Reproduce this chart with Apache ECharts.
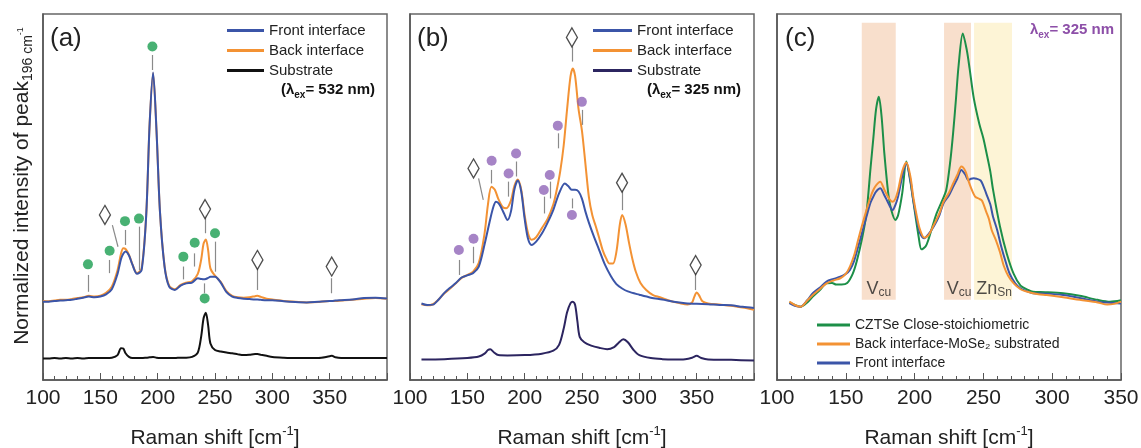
<!DOCTYPE html>
<html>
<head>
<meta charset="utf-8">
<script src="https://cdn.jsdelivr.net/npm/echarts@6/dist/echarts.min.js"></script>
<style>
html, body { margin: 0; padding: 0; background: #fff; }
#chart { width: 1141px; height: 448px; }
</style>
</head>
<body>
<div id="chart"></div>
<script>
// ---- panel (a): 532 nm ----
var shiftA = [100,105,110,115,120,125,130,135,140,145,150,155,160,165,168,170,172,175,178,182,186,190,193,196,199,202,206,210,215,220,225,230,235,238,240,242,244,246,250,255,260,265,270,275,280,285,287,290,295,300,310,320,330,340,350,352,355,360,370,380,390,400];
var frontA = [.214,.214,.216,.217,.218,.219,.222,.225,.228,.226,.228,.234,.248,.290,.330,.345,.351,.340,.315,.290,.300,.450,.700,.840,.680,.460,.310,.255,.246,.258,.264,.266,.278,.276,.275,.276,.279,.282,.282,.266,.240,.228,.224,.222,.221,.220,.220,.219,.218,.218,.215,.213,.212,.214,.216,.216,.217,.218,.220,.224,.225,.223];
var backA = [.216,.215,.217,.219,.219,.221,.224,.226,.230,.228,.230,.238,.255,.300,.345,.360,.358,.342,.316,.292,.305,.450,.700,.838,.680,.460,.312,.258,.248,.260,.266,.270,.290,.330,.372,.384,.355,.305,.285,.268,.243,.230,.226,.225,.226,.229,.230,.227,.222,.220,.216,.214,.212,.213,.216,.216,.216,.217,.219,.222,.224,.222];
var subA = [.059,.059,.060,.059,.060,.059,.060,.059,.060,.060,.060,.060,.061,.068,.087,.086,.073,.063,.060,.060,.060,.061,.062,.063,.061,.060,.060,.060,.060,.061,.061,.063,.075,.120,.168,.184,.150,.100,.082,.078,.075,.073,.070,.068,.069,.071,.071,.069,.066,.063,.061,.060,.060,.060,.065,.066,.062,.060,.060,.060,.060,.060];

// ---- panel (b): 325 nm ----
var shiftBFront = [110,115,120,125,130,135,140,145,150,155,160,165,170,173,175,178,182,185,188,191,194,197,200,203,206,210,215,220,225,230,235,238,241,244,247,250,253,256,260,265,270,275,280,285,290,300,310,320,330,340,350,360,370,380,390,400];
var frontB = [.209,.205,.206,.220,.238,.252,.265,.280,.286,.292,.310,.370,.440,.476,.487,.480,.455,.437,.460,.520,.545,.515,.440,.385,.369,.378,.400,.430,.465,.510,.537,.530,.520,.520,.515,.495,.460,.430,.395,.355,.315,.285,.262,.250,.242,.233,.225,.220,.214,.210,.208,.207,.205,.204,.200,.197];
var shiftBBack = [110,115,120,125,130,135,140,145,150,155,160,165,168,171,174,177,181,184,188,191,194,197,200,203,206,210,215,220,225,228,231,234,237,240,242,244,247,250,253,256,259,262,265,268,271,274,277,280,283,285,288,291,294,297,301,306,312,318,325,335,342,346,348,350,352,355,360,370,380,390,400];
var backB = [.207,.204,.207,.220,.237,.250,.264,.279,.287,.296,.320,.400,.480,.528,.520,.495,.472,.469,.490,.530,.548,.520,.450,.400,.383,.390,.415,.440,.480,.520,.570,.640,.740,.830,.851,.830,.740,.680,.590,.500,.450,.420,.388,.355,.333,.318,.318,.350,.425,.451,.425,.375,.330,.295,.265,.246,.232,.226,.218,.210,.206,.212,.228,.239,.232,.215,.209,.206,.203,.198,.192];
var shiftBSub = [110,130,150,160,165,168,170,173,177,185,200,215,225,230,234,237,240,242,244,246,248,252,258,265,272,278,282,286,290,295,300,310,320,330,340,346,350,354,360,380,400];
var subB = [.056,.057,.060,.064,.072,.082,.084,.076,.068,.067,.068,.072,.080,.096,.140,.185,.210,.214,.205,.160,.118,.103,.094,.088,.084,.090,.102,.111,.103,.082,.068,.060,.057,.056,.057,.061,.066,.060,.056,.055,.053];

// ---- panel (c): comparison ----
var shiftCGreen = [109,113,117,122,126,131,136,140,143,147,151,155,158,162,165,168,170,172,174,176,178,181,183,186,188,191,194,197,199,203,205,208,210,213,216,220,223,226,228,230,232,235,238,240,243,247,250,252,255,257,262,267,272,277,282,286,295,308,320,333,342,350];
var greenC = [.212,.205,.200,.212,.228,.245,.264,.265,.261,.261,.265,.290,.325,.390,.455,.580,.660,.740,.774,.720,.620,.505,.465,.437,.450,.510,.597,.540,.490,.390,.357,.365,.383,.420,.455,.490,.519,.600,.675,.765,.860,.947,.900,.850,.770,.700,.660,.625,.570,.520,.420,.345,.290,.258,.247,.241,.240,.237,.230,.219,.214,.218];
var shiftCFront = [109,113,117,122,126,131,136,141,146,150,153,156,159,162,165,168,170,172,175,178,180,182,184,186,188,191,194,197,199,202,204,207,210,214,218,221,225,228,231,234,237,239,241,243,245,248,250,252,255,257,260,263,266,269,273,277,282,286,295,308,320,333,342,350];
var frontC = [.210,.203,.200,.218,.237,.252,.269,.276,.282,.290,.301,.325,.364,.405,.446,.485,.501,.515,.524,.505,.490,.475,.464,.478,.501,.555,.592,.545,.492,.430,.401,.387,.398,.420,.450,.483,.505,.528,.550,.574,.560,.546,.550,.551,.550,.545,.530,.510,.480,.446,.410,.364,.325,.291,.265,.250,.242,.237,.236,.232,.224,.214,.211,.209];
var shiftCBack = [109,113,117,122,126,131,136,141,146,150,153,156,159,162,165,168,170,172,175,178,180,182,184,186,188,191,194,197,199,202,204,207,210,214,218,221,225,228,231,234,237,239,241,244,247,249,252,254,256,259,262,265,268,272,277,282,290,296,308,320,333,340,345,350];
var backC = [.214,.205,.200,.217,.232,.248,.264,.272,.278,.290,.310,.340,.383,.425,.464,.500,.519,.532,.542,.520,.505,.493,.487,.495,.519,.570,.594,.555,.501,.440,.410,.389,.395,.424,.455,.487,.512,.537,.560,.583,.570,.546,.525,.501,.495,.490,.460,.440,.410,.383,.350,.310,.285,.264,.248,.241,.234,.232,.226,.219,.212,.206,.208,.214];

// shaded bands in (c): [from, to, top, bottom]
var bandsC = [[161.6, 186.3, 0.976, 0.219], [221.4, 241.0, 0.976, 0.219], [243.2, 270.8, 0.976, 0.219]];
var bandLabels = [{ value: [174, 0.248], name: 'V{s|cu}' }, { value: [232.3, 0.248], name: 'V{s|cu}' }, { value: [257.8, 0.248], name: 'Zn{s|Sn}' }];

// peak markers: dots, diamonds and their guide ticks [x1, y1, x2, y2]
var dotsA = [[139.2,.316],[158.1,.353],[171.5,.434],[183.7,.441],[195.4,.911],[222.4,.337],[232.3,.375],[250,.401],[241,.223]];
var dotTicksA = [[139.2,.287,139.2,.241],[158.1,.328,158.1,.292],[171.5,.41,171.5,.369],[183.7,.419,183.7,.30],[195.4,.888,195.4,.847],[222.4,.31,222.4,.275],[232.3,.346,232.3,.31],[250,.378,250,.296],[241,.264,241,.237]];
var diamondsA = [[154,.451],[241.3,.467],[287,.328],[351.8,.31]];
var diamondTicksA = [[160.5,.423,165.4,.364],[241.3,.451,241.3,.401],[287,.305,287,.246],[351.8,.278,351.8,.237]];

var dotsB = [[142.6,.355],[155.4,.386],[171.2,.599],[186,.564],[192.5,.619],[216.7,.519],[221.9,.56],[228.9,.695],[249.9,.76],[241.2,.451]];
var dotTicksB = [[142.6,.328,142.6,.287],[155.4,.364,155.4,.319],[171.2,.574,171.2,.537],[186,.542,186,.501],[192.5,.597,192.5,.556],[216.7,.501,216.7,.455],[221.9,.542,221.9,.496],[228.9,.674,228.9,.633],[249.9,.738,249.9,.697],[241.2,.496,241.2,.469]];
var diamondsB = [[155.4,.578],[241.2,.936],[284.9,.539],[349.1,.314]];
var diamondTicksB = [[159.8,.551,163.9,.492],[241.2,.911,241.2,.870],[284.9,.519,284.9,.464],[349.1,.292,349.1,.246]];

var FONT = 'Liberation Sans';
var BLUE = '#3b55a8', ORANGE = '#f39234', GREEN = '#1c8f48', BLACK = '#111111', NAVY = '#2c2560';

function pairs(xs, ys) {
    return xs.map(function (x, i) { return [x, ys[i]]; });
}

function spectrum(name, g, xs, ys, color, z) {
    return {
        name: name, type: 'line', xAxisIndex: g, yAxisIndex: g,
        data: pairs(xs, ys), symbol: 'none', smooth: 0.3, silent: true, z: z,
        lineStyle: { color: color, width: 2 }, itemStyle: { color: color }
    };
}

function tickLines(ticks) {
    return {
        silent: true, symbol: ['none', 'none'], label: { show: false },
        lineStyle: { color: '#8a8a8a', width: 1.2, type: 'solid' },
        data: ticks.map(function (t) { return [{ coord: [t[0], t[1]] }, { coord: [t[2], t[3]] }]; })
    };
}

function markers(g, pts, ticks, kind, color) {
    var s = {
        type: 'scatter', xAxisIndex: g, yAxisIndex: g, data: pts, silent: true, z: 6,
        markLine: tickLines(ticks)
    };
    if (kind === 'dot') {
        s.symbol = 'circle'; s.symbolSize = 10; s.itemStyle = { color: color };
    } else {
        s.symbol = 'diamond'; s.symbolSize = [11, 19];
        s.itemStyle = { color: '#fff', borderColor: '#222', borderWidth: 1.4 };
    }
    return s;
}

function xAxis(g, max, showMax) {
    return {
        gridIndex: g, type: 'value', min: 100, max: max, interval: 50,
        name: 'Raman shift [cm{p|-1}]', nameLocation: 'middle', nameGap: 45,
        nameTextStyle: {
            fontSize: 21, fontFamily: FONT, color: '#222', lineHeight: 26,
            rich: { p: { fontSize: 13, lineHeight: 13, verticalAlign: 'top', fontFamily: FONT, color: '#222' } }
        },
        axisLine: { lineStyle: { color: '#555', width: 1.5 } },
        axisTick: { inside: true, length: 7, lineStyle: { color: '#555' } },
        minorTick: { show: true, splitNumber: 5, length: 4, lineStyle: { color: '#555' } },
        axisLabel: { fontSize: 21, fontFamily: FONT, color: '#222', margin: 8, showMaxLabel: showMax, showMinLabel: true },
        splitLine: { show: false }
    };
}

function yAxis(g) {
    return {
        gridIndex: g, type: 'value', min: 0, max: 1,
        axisLine: { show: true, lineStyle: { color: '#555', width: 1.5 } },
        axisTick: { show: false }, axisLabel: { show: false }, splitLine: { show: false }
    };
}

function legend(left, top, items, size, width) {
    return {
        orient: 'vertical', left: left, top: top, padding: 0,
        icon: 'rect', itemWidth: width, itemHeight: 3, itemGap: 5,
        selectedMode: false,
        textStyle: { fontSize: size, lineHeight: 14, fontFamily: FONT, color: '#222' },
        data: items.map(function (it) {
            return { name: it[0], itemStyle: { color: it[1] } };
        })
    };
}

function lambdaText(x, y, label, color, align) {
    var sub = { fontSize: 10, lineHeight: 10, verticalAlign: 'bottom', fontWeight: 'bold', fontFamily: FONT, fill: color };
    return {
        type: 'text', x: x, y: y,
        style: {
            text: label, fontSize: 15, fontWeight: 'bold', fontFamily: FONT, fill: color, lineHeight: 20,
            align: align, verticalAlign: 'middle', rich: { s: sub }
        }
    };
}

function panelLabel(x, text) {
    return { type: 'text', x: x, y: 39, style: { text: text, fontSize: 26, fontFamily: FONT, fill: '#222', align: 'left', verticalAlign: 'middle' } };
}

var series = [
    spectrum('Back interface', 0, shiftA, backA, ORANGE, 2),
    spectrum('Front interface', 0, shiftA, frontA, BLUE, 3),
    spectrum('Substrate', 0, shiftA, subA, BLACK, 3),
    markers(0, dotsA, dotTicksA, 'dot', '#1a9e50'),
    markers(0, diamondsA, diamondTicksA, 'diamond'),

    spectrum('Back interface', 1, shiftBBack, backB, ORANGE, 2),
    spectrum('Front interface', 1, shiftBFront, frontB, BLUE, 3),
    spectrum('Substrate', 1, shiftBSub, subB, NAVY, 3),
    markers(1, dotsB, dotTicksB, 'dot', '#9065b8'),
    markers(1, diamondsB, diamondTicksB, 'diamond'),

    {
        type: 'scatter', xAxisIndex: 2, yAxisIndex: 2, data: [], silent: true, z: 1,
        markArea: {
            silent: true,
            data: bandsC.map(function (b, i) {
                return [{ coord: [b[0], b[2]], itemStyle: { color: i === 2 ? '#fdf4d6' : '#f8dfcc' } }, { coord: [b[1], b[3]] }];
            })
        }
    },
    {
        type: 'scatter', xAxisIndex: 2, yAxisIndex: 2, data: bandLabels, symbolSize: 0, silent: true, z: 2,
        label: {
            show: true, position: 'inside', color: '#222', fontSize: 18, fontFamily: FONT,
            formatter: function (p) { return p.name; },
            rich: { s: { fontSize: 12, lineHeight: 12, verticalAlign: 'bottom', fontFamily: FONT, color: '#222' } }
        }
    },
    spectrum('CZTSe Close-stoichiometric', 2, shiftCGreen, greenC, GREEN, 3),
    spectrum('Front interface', 2, shiftCFront, frontC, BLUE, 4),
    spectrum('Back interface-MoSe\u2082 substrated', 2, shiftCBack, backC, ORANGE, 5)
];

var gridBase = { top: 14, width: 344, height: 366, show: true, borderColor: '#666', borderWidth: 1.5, outerBoundsMode: 'none', containLabel: false };

var chart = echarts.init(document.getElementById('chart'), null, { renderer: 'canvas' });
chart.setOption({
    animation: false,
    backgroundColor: '#fff',
    textStyle: { fontFamily: FONT },
    grid: [
        Object.assign({ left: 43 }, gridBase),
        Object.assign({ left: 410 }, gridBase),
        Object.assign({ left: 777 }, gridBase)
    ],
    xAxis: [xAxis(0, 400, false), xAxis(1, 400, false), xAxis(2, 350, true)],
    yAxis: [yAxis(0), yAxis(1), yAxis(2)],
    legend: [
        legend(227, 23, [['Front interface', BLUE], ['Back interface', ORANGE], ['Substrate', BLACK]], 15, 37),
        legend(593, 23, [['Front interface', BLUE], ['Back interface', ORANGE], ['Substrate', NAVY]], 15, 39),
        legend(817, 318, [['CZTSe Close-stoichiometric', GREEN], ['Back interface-MoSe\u2082 substrated', ORANGE], ['Front interface', BLUE]], 14, 33)
    ],
    graphic: [
        panelLabel(50, '(a)'),
        panelLabel(417, '(b)'),
        panelLabel(785, '(c)'),
        lambdaText(375, 90, '(\u03bb{s|ex}= 532 nm)', '#111', 'right'),
        lambdaText(741, 90, '(\u03bb{s|ex}= 325 nm)', '#111', 'right'),
        lambdaText(1114, 30, '\u03bb{s|ex}= 325 nm', '#8d4fa8', 'right'),
        {
            type: 'text', x: 22, y: 186, rotation: Math.PI / 2,
            style: {
                text: 'Normalized intensity of peak{s|196 cm}{p|-1}',
                fontSize: 21, fontFamily: FONT, fill: '#222', lineHeight: 26,
                align: 'center', verticalAlign: 'middle',
                rich: {
                    s: { fontSize: 14, lineHeight: 14, verticalAlign: 'bottom', fontFamily: FONT, fill: '#222' },
                    p: { fontSize: 9, lineHeight: 9, verticalAlign: 'bottom', padding: [0, 0, 10, 0], fontFamily: FONT, fill: '#222' }
                }
            }
        }
    ],
    series: series
});
</script>
</body>
</html>
